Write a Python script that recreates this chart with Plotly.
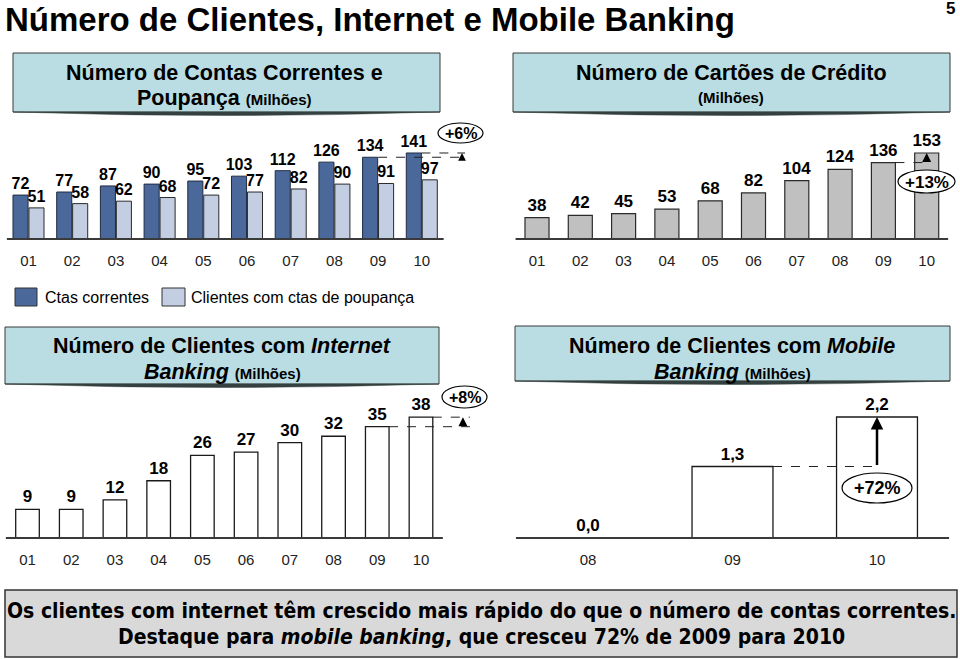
import plotly.graph_objects as go

W, H = 960, 659

# ---------------- data ----------------
years = ["01", "02", "03", "04", "05", "06", "07", "08", "09", "10"]
ctas_correntes = [72, 77, 87, 90, 95, 103, 112, 126, 134, 141]
ctas_poupanca = [51, 58, 62, 68, 72, 77, 82, 90, 91, 97]
cartoes = [38, 42, 45, 53, 68, 82, 104, 124, 136, 153]
internet = [9, 9, 12, 18, 26, 27, 30, 32, 35, 38]
mobile_years = ["08", "09", "10"]
mobile = [0.0, 1.3, 2.2]

growth_ctas = "+6%"
growth_cartoes = "+13%"
growth_internet = "+8%"
growth_mobile = "+72%"

# ---------------- styling ----------------
FONT = "Liberation Sans, Arial, sans-serif"
NARROW = "DejaVu Sans, Liberation Sans, sans-serif"
DARK = "#4a6899"
LIGHT = "#c3cee2"
GREY = "#c0c0c0"
HEAD_FILL = "#b9dde2"
AXIS = "#3a3a3a"


def px(x):
    return x / W


def py(y):
    return 1 - y / H


idx = list(range(len(years)))
midx = list(range(len(mobile_years)))

fig = go.Figure()

lab_font = dict(family=FONT, size=16, color="black", weight="bold")
lab_font16 = dict(family=FONT, size=17, color="black", weight="bold")

# top-left: contas correntes & poupança
fig.add_trace(go.Bar(
    x=idx, y=ctas_correntes, xaxis="x", yaxis="y", name="Ctas correntes",
    width=0.345, offset=-0.355,
    marker=dict(color=DARK, line=dict(color="#1f2b44", width=1)),
    text=[str(v) for v in ctas_correntes], textposition="outside",
    textfont=lab_font, constraintext="none", cliponaxis=False, showlegend=False))
fig.add_trace(go.Bar(
    x=idx, y=ctas_poupanca, xaxis="x", yaxis="y", name="Clientes com ctas de poupança",
    width=0.345, offset=0.01,
    marker=dict(color=LIGHT, line=dict(color="#2a2a2a", width=1)),
    text=[str(v) for v in ctas_poupanca], textposition="outside",
    textfont=lab_font, constraintext="none", cliponaxis=False, showlegend=False))

# top-right: cartões
fig.add_trace(go.Bar(
    x=idx, y=cartoes, xaxis="x2", yaxis="y2", name="Cartões",
    width=0.555, offset=-0.2775,
    marker=dict(color=GREY, line=dict(color="#2a2a2a", width=1.2)),
    text=[str(v) for v in cartoes], textposition="outside",
    textfont=lab_font16, constraintext="none", cliponaxis=False, showlegend=False))

# bottom-left: internet banking
fig.add_trace(go.Bar(
    x=idx, y=internet, xaxis="x3", yaxis="y3", name="Internet Banking",
    width=0.54, offset=-0.27,
    marker=dict(color="white", line=dict(color="#1a1a1a", width=1.3)),
    text=[str(v) for v in internet], textposition="outside",
    textfont=lab_font16, constraintext="none", cliponaxis=False, showlegend=False))

# bottom-right: mobile banking
fig.add_trace(go.Bar(
    x=midx, y=mobile, xaxis="x4", yaxis="y4", name="Mobile Banking",
    width=0.56, offset=-0.28,
    marker=dict(color="white", line=dict(color="#1a1a1a", width=1.3)),
    text=[f"{v:.1f}".replace(".", ",") for v in mobile], textposition="outside",
    textfont=lab_font16, constraintext="none", cliponaxis=False, showlegend=False))

tickfont = dict(family=FONT, size=15, color="#222")
PAD = 3  # px of blank room under the baseline inside each plot area


def xax(start, step, n, extra, labels, anchor):
    # start: left pixel of first category slot; step: px per category
    hi = n - 0.5 + extra
    return dict(domain=[px(start), px(start + step * (n + extra))], range=[-0.5, hi],
                tickvals=list(range(n)), ticktext=labels, showline=False,
                ticks="outside", ticklen=5, tickcolor="rgba(0,0,0,0)", showgrid=False,
                zeroline=False, tickfont=tickfont, anchor=anchor, fixedrange=True)


def yax(base, scale, top, anchor):
    return dict(domain=[py(base + PAD), py(base - scale * top)], range=[-PAD / scale, top],
                visible=False, showgrid=False, zeroline=False, anchor=anchor, fixedrange=True)


fig.update_layout(
    width=W, height=H, margin=dict(l=0, r=0, t=0, b=0),
    paper_bgcolor="white", plot_bgcolor="rgba(0,0,0,0)",
    barmode="overlay", showlegend=False,
    xaxis=xax(6.65, 43.7, 10, 0.5, years, "y"),
    yaxis=yax(239, 0.61, 160, "x"),
    xaxis2=xax(515.35, 43.3, 10, 0.0, years, "y2"),
    yaxis2=yax(239, 0.562, 170, "x2"),
    xaxis3=xax(5.64, 43.72, 10, 0.7, years, "y3"),
    yaxis3=yax(538, 3.18, 40, "x3"),
    xaxis4=xax(515.75, 144.5, 3, 0.0, mobile_years, "y4"),
    yaxis4=yax(538, 55, 2.3, "x4"),
)

shapes = []
annotations = []


def baseline(xr, yr, n):
    shapes.append(dict(type="line", xref=xr, yref=yr, x0=-0.5, x1=n - 0.5, y0=0, y1=0,
                       line=dict(color=AXIS, width=2), layer="above"))


def rect(x0, y0, x1, y1, fill, line="#3a3a3a", lw=1):
    shapes.append(dict(type="rect", xref="paper", yref="paper", x0=px(x0), x1=px(x1),
                       y0=py(y0), y1=py(y1), fillcolor=fill, line=dict(color=line, width=lw),
                       layer="below"))


def shadow(x0, x1, y):
    xc = (x0 + x1) / 2
    path = f"M {px(x0)},{py(y)} Q {px(xc)},{py(y + 7)} {px(x1)},{py(y)} Z"
    shapes.append(dict(type="path", xref="paper", yref="paper", path=path,
                       fillcolor="#34403f", line=dict(color="#34403f", width=0.5), layer="below"))


def text(x, y, s, size, anchor="center", family=FONT, color="black"):
    annotations.append(dict(x=px(x), y=py(y), xref="paper", yref="paper", text=s,
                            showarrow=False, xanchor=anchor, yanchor="middle",
                            font=dict(family=family, size=size, color=color)))


def ellipse(x0, y0, x1, y1, label, size):
    shapes.append(dict(type="circle", xref="paper", yref="paper", x0=px(x0), x1=px(x1),
                       y0=py(y0), y1=py(y1), fillcolor="white",
                       line=dict(color="black", width=1.2), layer="above"))
    text((x0 + x1) / 2, (y0 + y1) / 2 + 0.5, f"<b>{label}</b>", size)


def dashed(xr, yr, xa, xb, yv):
    shapes.append(dict(type="line", xref=xr, yref=yr, x0=xa, x1=xb, y0=yv, y1=yv,
                       line=dict(color="#222", width=1, dash="dash"), layer="above"))


def arrow(xr, yr, xv, y_from, y_to, width=1, size=1):
    annotations.append(dict(x=xv, y=y_to, ax=xv, ay=y_from, xref=xr, yref=yr,
                            axref=xr, ayref=yr, showarrow=True, arrowhead=2,
                            arrowsize=size, arrowwidth=width, arrowcolor="black",
                            standoff=0, startstandoff=0, text=""))


n = len(years)
m = len(mobile)
baseline("x", "y", n)
baseline("x2", "y2", n)
baseline("x3", "y3", n)
baseline("x4", "y4", m)

# title
text(3, 20, "<b>Número de Clientes, Internet e Mobile Banking</b>", 33, anchor="left")
text(950, 9, "<b>5</b>", 17)

# header boxes
rect(13, 53, 440, 112, HEAD_FILL)
shadow(13, 440, 112)
text(224, 73, "<b>Número de Contas Correntes e</b>", 21.5)
text(224, 98, "<b>Poupança <span style='font-size:15px'>(Milhões)</span></b>", 21.5)

rect(513, 53, 950, 112, HEAD_FILL)
shadow(513, 950, 112)
text(731, 73, "<b>Número de Cartões de Crédito</b>", 21.5)
text(731, 97, "<b>(Milhões)</b>", 15)

rect(5, 327, 439, 384, HEAD_FILL)
shadow(5, 439, 384)
text(222, 346, "<b>Número de Clientes com <i>Internet</i></b>", 21.5)
text(222, 372, "<b><i>Banking</i> <span style='font-size:15px'>(Milhões)</span></b>", 21.5)

rect(515, 326, 950, 381, HEAD_FILL)
shadow(515, 950, 381)
text(732, 346, "<b>Número de Clientes com <i>Mobile</i></b>", 21.5)
text(732, 372, "<b><i>Banking</i> <span style='font-size:15px'>(Milhões)</span></b>", 21.5)

# legend
rect(15, 288, 37, 306, DARK, line="#333")
text(43, 298, "Ctas correntes", 16, anchor="left")
rect(162, 288, 185, 306, LIGHT, line="#333")
text(189, 298, "Clientes com ctas de poupança", 16, anchor="left")

# footer
rect(5, 590, 957, 657, "#d9d9d9", line="#333", lw=1.5)
text(481, 611, "<span style='font-stretch:condensed'><b>Os clientes com internet têm crescido mais rápido do que o número de contas correntes.</b></span>",
     21, family=NARROW)
text(481, 637, "<span style='font-stretch:condensed'><b>Destaque para <i>mobile banking</i>, que cresceu 72% de 2009 para 2010</b></span>",
     21, family=NARROW)

# growth markers: top-left
dashed("x", "y", n - 2, n - 1 + 0.99, ctas_correntes[n - 2])
dashed("x", "y", n - 1 - 0.01, n - 1 + 0.99, ctas_correntes[n - 1])
arrow("x", "y", n - 1 + 0.92, ctas_correntes[n - 2], ctas_correntes[n - 1], width=1.2, size=1.3)
ellipse(438, 123, 483, 143, growth_ctas, 16)

# top-right
dashed("x2", "y2", n - 2 + 0.2775, n - 1 + 0.08, cartoes[n - 2])
arrow("x2", "y2", n - 1, cartoes[n - 2], cartoes[n - 1], width=1.2, size=1.5)
ellipse(898, 170, 955, 193, growth_cartoes, 17)

# bottom-left
dashed("x3", "y3", n - 2 + 0.27, n - 1 + 1.12, internet[n - 2])
dashed("x3", "y3", n - 1 + 0.27, n - 1 + 1.12, internet[n - 1])
arrow("x3", "y3", n - 1 + 0.96, internet[n - 2], internet[n - 1], width=1.2, size=1.5)
ellipse(442, 386, 487, 408, growth_internet, 16)

# bottom-right
dashed("x4", "y4", m - 2 + 0.28, m - 1, mobile[m - 2])
arrow("x4", "y4", m - 1, mobile[m - 2], mobile[m - 1], width=2.5, size=1)
ellipse(842, 473, 912, 503, growth_mobile, 18)

fig.update_layout(shapes=shapes, annotations=annotations)
fig.write_html("out.html", config={"displayModeBar": False},
               post_script="document.body.style.margin='0';document.body.style.overflow='hidden';")
